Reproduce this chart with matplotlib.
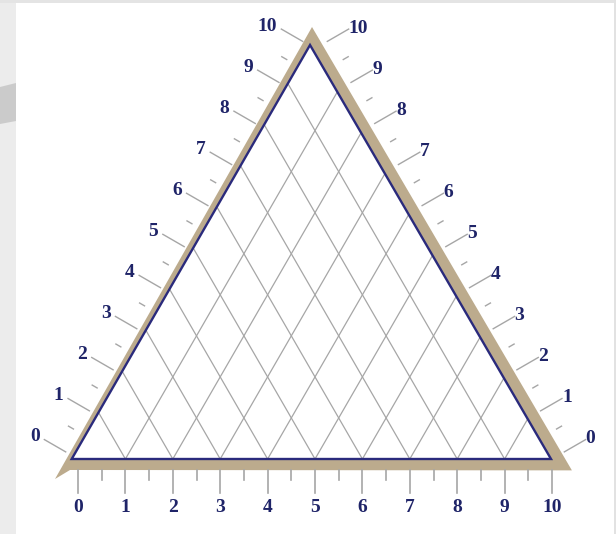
import numpy as np
import matplotlib
matplotlib.use("Agg")
import matplotlib.pyplot as plt
from matplotlib.patches import Polygon

# scale values on the three edges
bottom_values = [0, 1, 2, 3, 4, 5, 6, 7, 8, 9, 10]
left_values = [0, 1, 2, 3, 4, 5, 6, 7, 8, 9, 10]
right_values = [0, 1, 2, 3, 4, 5, 6, 7, 8, 9, 10]
bottom_labels = [str(v) for v in bottom_values]
left_labels = [str(v) for v in left_values]
right_labels = [str(v) for v in right_values]
grid_values = [1, 2, 3, 4, 5, 6, 7, 8, 9]
minor_values = [0.5, 1.5, 2.5, 3.5, 4.5, 5.5, 6.5, 7.5, 8.5, 9.5]

H = np.sqrt(3) / 2
TEXT = '#1f2468'
TAN = '#bcab8d'
BLUE = '#2a2a7c'
GREY = '#a6a6a6'
FONT = dict(family='Liberation Serif', weight='bold', size=14, color=TEXT)

# 1 data unit = 47.4 px, origin at px (78, 459)
S = 47.4
W, Hpx = 616, 534
fig = plt.figure(figsize=(W / 100, Hpx / 100), dpi=100)
ax = fig.add_axes([0, 0, 1, 1])
ax.set_xlim(-78 / S, (W - 78) / S)
ax.set_ylim((459 - Hpx) / S, 459 / S)
ax.axis('off')

# grey scan border
def px(x, y):
    return (x / W, 1 - y / Hpx)

for pts, col in [([(0, 0), (16, 0), (16, 534), (0, 534)], '#ececec'),
                 ([(0, 0), (616, 0), (616, 3), (0, 3)], '#e4e4e4'),
                 ([(614, 0), (616, 0), (616, 534), (614, 534)], '#e2e2e2'),
                 ([(0, 87), (16, 83), (16, 121), (0, 124)], '#cbcbcb')]:
    fig.patches.append(Polygon([px(*p) for p in pts], closed=True, fc=col, ec='none',
                               transform=fig.transFigure, figure=fig))

# tan frame and blue inner triangle
corners = [(-0.133, 0), (9.979, 0), (4.895, 8.734)]
tan = Polygon([(4.937, 9.114), (10.42, -0.24), (-0.169, -0.232), (-0.485, -0.422)],
              closed=True, fc=TAN, ec='none', zorder=1)
ax.add_patch(tan)
inner = Polygon(corners, closed=True, fc='white', ec='none', zorder=1.5)
ax.add_patch(inner)
ax.add_patch(Polygon(corners, closed=True, fill=False, ec=BLUE, lw=1.7,
                     zorder=3, joinstyle='miter'))

# diamond grid, clipped to the inner triangle
for v in grid_values:
    for d in (0.5, -0.5):
        t = np.array([-3, 13])
        line, = ax.plot(v + d * t, H * t, color=GREY, lw=0.9, zorder=2)
        line.set_clip_path(inner)

# bottom scale
for v, lab in zip(bottom_values, bottom_labels):
    ax.plot([v, v], [-0.232, -0.72], color=GREY, lw=1.2, zorder=2)
    ax.text(v, -1.03, lab, ha='center', va='center', **FONT)
for v in minor_values:
    ax.plot([v, v], [-0.232, -0.45], color=GREY, lw=1.2, zorder=2)

# left and right scales (0 at the bottom, 10 at the apex)
n_left = np.array([-H, 0.5])
n_right = np.array([H, 0.5])
for v, lab in zip(left_values, left_labels):
    p = np.array([v / 2, v * H])
    a, b = p + 0.3 * n_left, p + 0.82 * n_left
    ax.plot([a[0], b[0]], [a[1], b[1]], color=GREY, lw=1.0, zorder=2)
    ax.text(p[0] - 0.81, p[1] + 0.47, lab, ha='right', va='center', **FONT)
for v, lab in zip(right_values, right_labels):
    p = np.array([10 - v / 2, v * H])
    a, b = p + 0.3 * n_right, p + 0.82 * n_right
    ax.plot([a[0], b[0]], [a[1], b[1]], color=GREY, lw=1.0, zorder=2)
    ax.text(p[0] + 0.71, p[1] + 0.43, lab, ha='left', va='center', **FONT)
for v in minor_values:
    p = np.array([v / 2, v * H])
    a, b = p + 0.40 * n_left, p + 0.52 * n_left
    ax.plot([a[0], b[0]], [a[1], b[1]], color=GREY, lw=1.0, zorder=2)
    p = np.array([10 - v / 2, v * H])
    a, b = p + 0.40 * n_right, p + 0.52 * n_right
    ax.plot([a[0], b[0]], [a[1], b[1]], color=GREY, lw=1.0, zorder=2)

fig.savefig('out.png', dpi=100)
